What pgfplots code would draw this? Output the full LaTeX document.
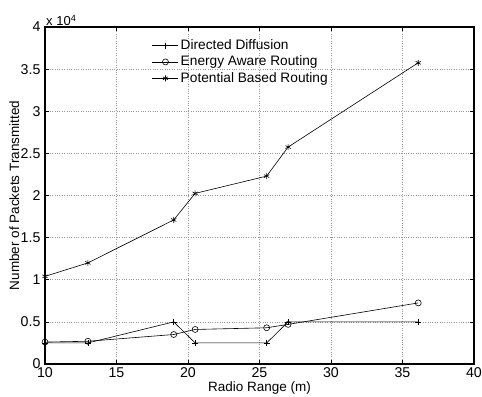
\documentclass[border=0pt]{standalone}
\usepackage{fontspec}
\setmainfont{Liberation Sans}
\usepackage{pgfplots}
\pgfplotsset{compat=1.18}
\begin{document}
\begin{tikzpicture}
\path[use as bounding box] (-45bp,-33bp) rectangle (437bp,364bp);
\fontsize{13bp}{15bp}\selectfont
\begin{axis}[
  at={(0,0)}, anchor=south west,
  scale only axis, width=429bp, height=337bp,
  xmin=10, xmax=40, ymin=0, ymax=40000,
  xtick={10,15,...,40},
  ytick={0,5000,...,40000},
  yticklabels={0,0.5,1,1.5,2,2.5,3,3.5,4},
  scaled y ticks=false,
  /pgf/number format/assume math mode=true,
  tick align=inside, tick pos=both,
  major tick length=4bp,
  axis line style={line width=1.1bp},
  grid=major,
  major grid style={dotted, line width=0.6bp, gray!80},
  tick style={black, line width=0.6bp},
  ticklabel style={font=\fontsize{14.2bp}{16bp}\selectfont},
  xticklabel style={yshift=1bp},
  xlabel={Radio Range (m)},
  ylabel={Number of Packets Transmitted},
  label style={font=\fontsize{13.5bp}{15bp}\selectfont},
  xlabel style={yshift=5bp},
  ylabel style={yshift=-7.5bp},
  legend style={at={(rel axis cs:0.247,0.972)}, anchor=north west, draw=none, fill=none,
    font=\fontsize{13.7bp}{15bp}\selectfont, row sep=0.5bp, inner sep=1pt},
  legend cell align=left,
  legend image code/.code={\draw[#1] (0bp,0bp) -- (13bp,0bp) -- (26bp,0bp); \draw[#1, only marks] plot coordinates {(13bp,0bp)};},
  every axis plot/.append style={black, line width=0.6bp, mark size=3bp},
  clip=false,
]
\addplot[mark=+] coordinates {(10,2500) (13,2500) (19,5000) (20.5,2500) (25.5,2500) (27,5000) (36.1,5000)};
\addlegendentry{Directed Diffusion}
\addplot[mark=o] coordinates {(10,2600) (13,2700) (19,3500) (20.5,4100) (25.5,4300) (27,4700) (36.1,7250)};
\addlegendentry{Energy Aware Routing}
\addplot[mark=asterisk] coordinates {(10,10400) (13,12000) (19,17100) (20.5,20250) (25.5,22300) (27,25750) (36.1,35750)};
\addlegendentry{Potential Based Routing}
\node[anchor=south west, inner sep=1pt, font=\fontsize{13bp}{14bp}\selectfont] at (rel axis cs:0,1) {x 10$^{\mathrm{4}}$};
\end{axis}
\end{tikzpicture}
\end{document}
